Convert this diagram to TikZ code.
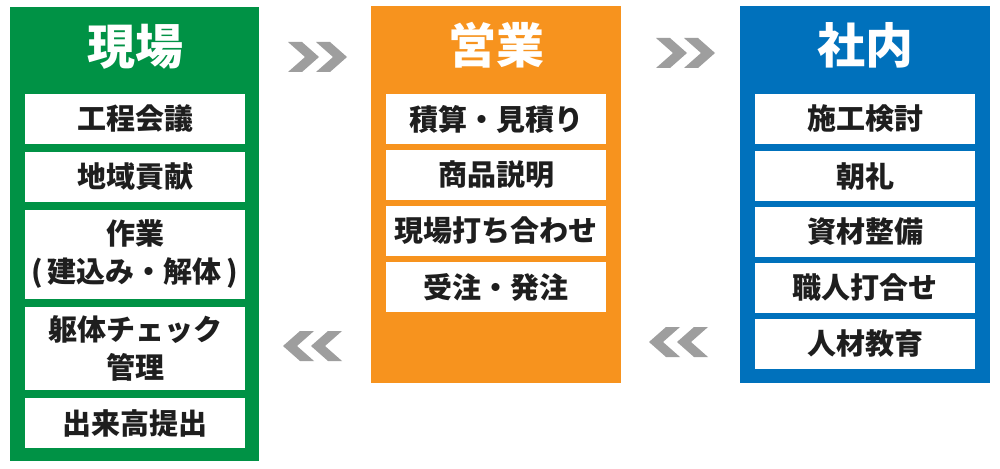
\documentclass[tikz,border=0pt]{standalone}
\usepackage{fontspec}
\newfontfamily\cjk{Noto Sans CJK JP}
\definecolor{gba}{RGB}{0,146,69}
\definecolor{oba}{RGB}{247,147,30}
\definecolor{bba}{RGB}{0,113,188}
\definecolor{chev}{RGB}{158,158,158}
\definecolor{ink}{RGB}{30,30,30}
\newcommand\chevr[2]{\fill[chev] (#1,#2) -- ++(14,0) -- ++(17,15) -- ++(-17,15) -- ++(-14,0) -- ++(17,-15) -- cycle;}
\newcommand\chevl[2]{\fill[chev] (#1,#2) -- ++(-14,0) -- ++(-17,15) -- ++(17,15) -- ++(14,0) -- ++(-17,-15) -- cycle;}
\begin{document}
\begin{tikzpicture}[x=1pt,y=-1pt,
  panel/.style={draw=none},
  title/.style={text=white,font=\cjk\bfseries\fontsize{48}{50}\selectfont},
  item/.style={fill=white,minimum width=220pt,inner sep=0pt,text=ink,align=center,
    font=\cjk\bfseries\fontsize{29}{38}\selectfont},
  h50/.style={minimum height=50pt},
]
\useasboundingbox (0,0) rectangle (1000,468);
\fill[white] (0,0) rectangle (1000,468);
% panels
\node[panel,fill=gba,minimum width=249pt,minimum height=454pt,inner sep=0pt] (pg) at (134.5,234) {};
\node[panel,fill=oba,minimum width=250pt,minimum height=377pt,inner sep=0pt] (po) at (496,194.5) {};
\node[panel,fill=bba,minimum width=250pt,minimum height=377pt,inner sep=0pt] (pb) at (865,194.5) {};
% titles
\node[title] (tg) at (135,47) {現場};
\node[title] (to) at (496,45) {営業};
\node[title] (tb) at (865,45) {社内};
% green items
\node[item,h50] (g1) at (135,119) {工程会議};
\node[item,h50] (g2) at (135,177) {地域貢献};
\node[item,minimum height=89pt] (g3) at (135,254.5) {作業\\(\,建込み・解体\,)};
\node[item,minimum height=83pt] (g4) at (135,348.5) {躯体チェック\\管理};
\node[item,h50] (g5) at (135,423) {出来高提出};
% orange items
\node[item,h50] (o1) at (496,119) {積算・見積り};
\node[item,h50] (o2) at (496,175) {商品説明};
\node[item,h50] (o3) at (496,231) {現場打ち合わせ};
\node[item,h50] (o4) at (496,287) {受注・発注};
% blue items
\node[item,h50] (b1) at (865,119) {施工検討};
\node[item,h50] (b2) at (865,176) {朝礼};
\node[item,h50] (b3) at (865,232) {資材整備};
\node[item,h50] (b4) at (865,288) {職人打合せ};
\node[item,h50] (b5) at (865,344) {人材教育};
% chevrons
\chevr{288}{42}\chevr{316}{42}
\chevr{656}{38}\chevr{684}{38}
\chevl{342}{331}\chevl{314}{331}
\chevl{708}{327}\chevl{680}{327}
\end{tikzpicture}
\end{document}
